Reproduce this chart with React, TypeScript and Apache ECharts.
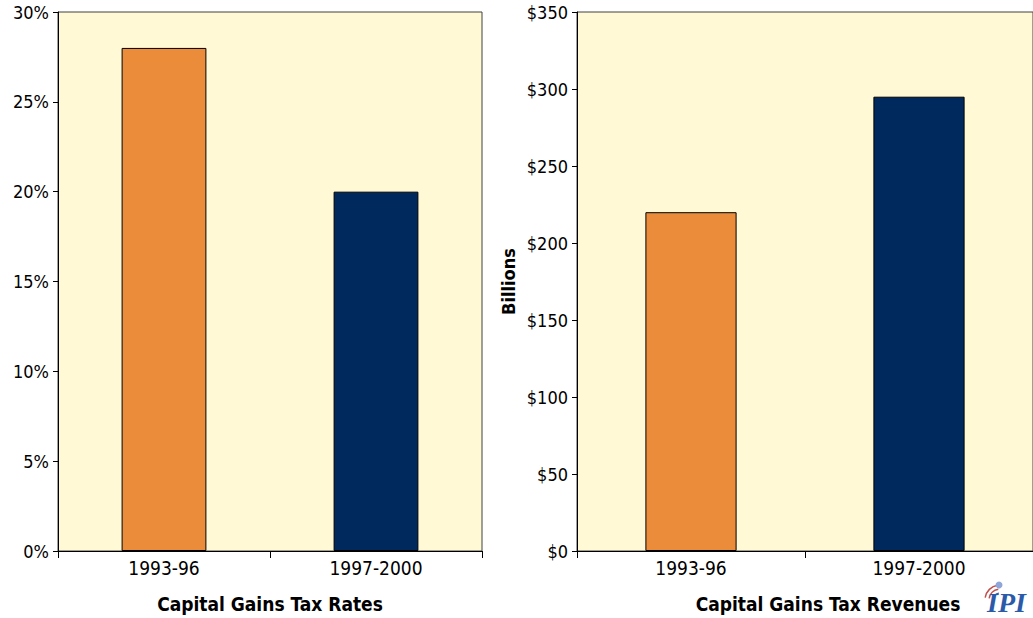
import React, { useEffect, useRef } from "react";
import * as echarts from "echarts";

const categories = ["1993-96", "1997-2000"];
const taxRates = [28, 20];
const taxRevenues = [220, 295];
const barColors = ["#EA8C3A", "#002A5E"];
const leftTitle = "Capital Gains Tax Rates";
const rightTitle = "Capital Gains Tax Revenues";
const rightAxisName = "Billions";

const FONT = "'DejaVu Sans Condensed', 'Liberation Sans Narrow', sans-serif";

export default function App() {
  const ref = useRef<HTMLDivElement>(null);
  useEffect(() => {
    if (!ref.current) return;
    const chart = echarts.init(ref.current, undefined, { renderer: "svg" });
    const catAxis = (gridIndex: number) => ({
      type: "category",
      gridIndex,
      data: categories,
      axisLine: { lineStyle: { color: "#000", width: 1 } },
      axisTick: { show: true, length: 7, lineStyle: { color: "#000" } },
      axisLabel: { color: "#000", fontSize: 19, fontFamily: FONT, margin: 7 },
    });
    const valAxisCommon = {
      type: "value",
      min: 0,
      axisLine: { show: true, lineStyle: { color: "#000", width: 1 } },
      axisTick: { show: true, length: 5, lineStyle: { color: "#000" } },
      splitLine: { show: false },
    };
    chart.setOption({
      animation: false,
      backgroundColor: "#fff",
      grid: [
        { left: 58, top: 12, width: 424, height: 539, show: true, backgroundColor: "#FFF9D6", borderColor: "#404040", borderWidth: 1 },
        { left: 577, top: 12, right: -8, height: 539, show: true, backgroundColor: "#FFF9D6", borderColor: "#404040", borderWidth: 1 },
      ],
      xAxis: [catAxis(0), catAxis(1)],
      yAxis: [
        {
          ...valAxisCommon,
          gridIndex: 0,
          max: 30,
          interval: 5,
          axisLabel: { color: "#000", fontSize: 18, fontFamily: FONT, margin: 9, formatter: (v: number) => v + "%" },
        },
        {
          ...valAxisCommon,
          gridIndex: 1,
          max: 350,
          interval: 50,
          name: rightAxisName,
          nameLocation: "middle",
          nameRotate: 90,
          nameGap: 60,
          nameTextStyle: { color: "#000", fontSize: 18, fontWeight: "bold", fontFamily: FONT },
          axisLabel: { color: "#000", fontSize: 18, fontFamily: FONT, margin: 9, formatter: (v: number) => "$" + v },
        },
      ],
      series: [
        {
          type: "bar",
          xAxisIndex: 0,
          yAxisIndex: 0,
          barWidth: "40%",
          data: taxRates.map((v, i) => ({ value: v, itemStyle: { color: barColors[i] } })),
          itemStyle: { borderColor: "#000", borderWidth: 1 },
        },
        {
          type: "bar",
          xAxisIndex: 1,
          yAxisIndex: 1,
          barWidth: "40%",
          data: taxRevenues.map((v, i) => ({ value: v, itemStyle: { color: barColors[i] } })),
          itemStyle: { borderColor: "#000", borderWidth: 1 },
        },
      ],
      graphic: [
        {
          type: "text",
          x: 270,
          y: 604,
          style: { text: leftTitle, fill: "#000", font: "bold 19px " + FONT, textAlign: "center", textVerticalAlign: "middle" },
        },
        {
          type: "text",
          x: 828,
          y: 604,
          style: { text: rightTitle, fill: "#000", font: "bold 19px " + FONT, textAlign: "center", textVerticalAlign: "middle" },
        },
        {
          type: "group",
          children: [
            { type: "arc", shape: { cx: 1000, cy: 600, r: 15, startAngle: Math.PI * 1.05, endAngle: Math.PI * 1.45 }, style: { stroke: "#C0504D", lineWidth: 1.5, fill: "none" } },
            { type: "arc", shape: { cx: 1000, cy: 600, r: 11, startAngle: Math.PI * 1.05, endAngle: Math.PI * 1.45 }, style: { stroke: "#C0504D", lineWidth: 1.5, fill: "none" } },
            { type: "arc", shape: { cx: 1000, cy: 600, r: 7, startAngle: Math.PI * 1.05, endAngle: Math.PI * 1.45 }, style: { stroke: "#3A5FA8", lineWidth: 1.2, fill: "none" } },
            { type: "circle", shape: { cx: 999, cy: 585, r: 3.5 }, style: { fill: "#8FA7D8" } },
            {
              type: "text",
              x: 987,
              y: 602,
              style: { text: "IPI", fill: "#2B5BA8", font: "italic bold 28px 'Liberation Serif', serif", textVerticalAlign: "middle" },
            },
          ],
        },
      ],
    });
    return () => chart.dispose();
  }, []);
  return <div ref={ref} style={{ width: 1033, height: 618, position: "absolute", left: 0, top: 0 }} />;
}
